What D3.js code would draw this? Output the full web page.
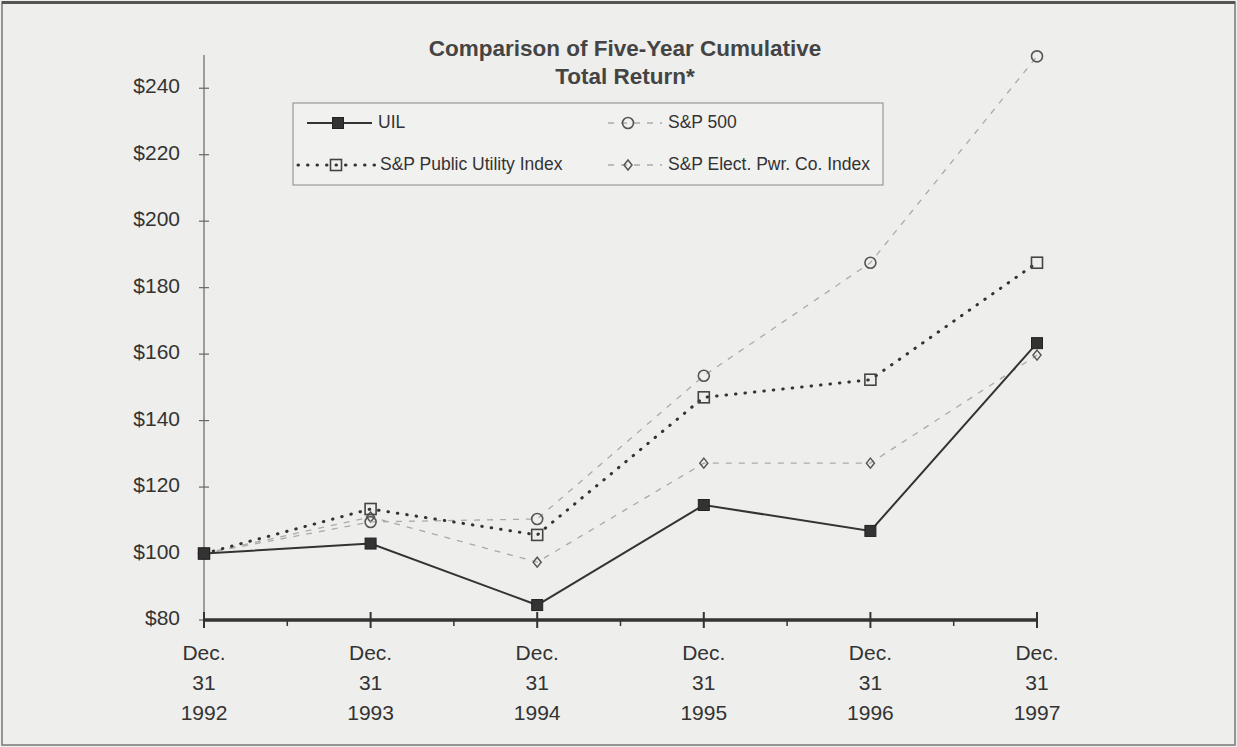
<!DOCTYPE html>
<html><head><meta charset="utf-8">
<script src="https://cdn.jsdelivr.net/npm/d3@7"></script>
<style>html,body{margin:0;padding:0;background:#eeeeec;}svg{display:block;}</style>
</head><body>
<svg id="c" width="1237" height="747"></svg>
<script>
const years = ["1992","1993","1994","1995","1996","1997"];
const yTicks = [80,100,120,140,160,180,200,220,240];
const uil   = [100,103,84.5,114.6,106.8,163.3];
const sp500 = [100,109.5,110.4,153.5,187.5,249.6];
const spUtil= [100,113.4,105.6,147,152.3,187.5];
const spElec= [100,111,97.4,127.2,127.2,159.7];
const seriesNames = ["UIL","S&P 500","S&P Public Utility Index","S&P Elect. Pwr. Co. Index"];

const svg = d3.select("#c");
const W=1237,H=747;
svg.append("rect").attr("x",0).attr("y",0).attr("width",W).attr("height",H).attr("fill","#eeeeec");
svg.append("rect").attr("x",2).attr("y",2).attr("width",W-4).attr("height",H-4).attr("fill","none").attr("stroke","#777").attr("stroke-width",1.5);
svg.append("line").attr("x1",2).attr("x2",W-2).attr("y1",2.5).attr("y2",2.5).attr("stroke","#555").attr("stroke-width",3);

const x = d3.scalePoint().domain(years).range([204,1037]);
const y = d3.scaleLinear().domain([80,250]).range([620,55]);
const font = "Arial, 'Liberation Sans', sans-serif";

// title
const t = svg.append("text").attr("text-anchor","middle").attr("font-family",font).attr("font-size",22.5).attr("font-weight","bold").attr("fill","#444");
t.append("tspan").attr("x",625).attr("y",56).text("Comparison of Five-Year Cumulative");
t.append("tspan").attr("x",625).attr("y",84).text("Total Return*");

// y axis
const yAxis = svg.append("g");
yAxis.append("line").attr("x1",204).attr("x2",204).attr("y1",y(250)).attr("y2",y(80)).attr("stroke","#666").attr("stroke-width",1.2);
yTicks.forEach(v=>{
  yAxis.append("line").attr("x1",199).attr("x2",209).attr("y1",y(v)).attr("y2",y(v)).attr("stroke","#666").attr("stroke-width",1.2);
  yAxis.append("text").attr("x",180).attr("y",y(v)).attr("dy","0.25em").attr("text-anchor","end")
    .attr("font-family",font).attr("font-size",21).attr("fill","#333").text("$"+v);
});

// x axis
const xa = svg.append("g");
xa.append("line").attr("x1",x("1992")).attr("x2",x("1997")).attr("y1",y(80)).attr("y2",y(80)).attr("stroke","#333").attr("stroke-width",3.5);
years.forEach((yr,i)=>{
  const px=x(yr);
  xa.append("line").attr("x1",px).attr("x2",px).attr("y1",y(80)-8).attr("y2",y(80)+8).attr("stroke","#333").attr("stroke-width",2);
  if(i<years.length-1){
    const mx=(px+x(years[i+1]))/2;
    xa.append("line").attr("x1",mx).attr("x2",mx).attr("y1",y(80)).attr("y2",y(80)+6).attr("stroke","#333").attr("stroke-width",1.5);
  }
  const tx = xa.append("text").attr("text-anchor","middle").attr("font-family",font).attr("font-size",21).attr("fill","#333");
  tx.append("tspan").attr("x",px).attr("y",660).text("Dec.");
  tx.append("tspan").attr("x",px).attr("y",690).text("31");
  tx.append("tspan").attr("x",px).attr("y",720).text(yr);
});

const line = d3.line().x((d,i)=>x(years[i])).y(d=>y(d));

const styles = [
  {data:uil, stroke:"#333", width:2, dash:null, cap:"butt", marker:"fsquare"},
  {data:sp500, stroke:"#aaa", width:1.3, dash:"6,7", cap:"butt", marker:"circle"},
  {data:spUtil, stroke:"#333", width:3, dash:"0.5,9", cap:"round", marker:"square"},
  {data:spElec, stroke:"#aaa", width:1.3, dash:"6,7", cap:"butt", marker:"diamond"}
];

function drawMarker(g,type,cx,cy){
  if(type==="fsquare") g.append("rect").attr("x",cx-5.5).attr("y",cy-5.5).attr("width",11).attr("height",11).attr("fill","#333").attr("stroke","#222").attr("stroke-width",1);
  else if(type==="circle") g.append("circle").attr("cx",cx).attr("cy",cy).attr("r",5.5).attr("fill","none").attr("stroke","#555").attr("stroke-width",1.6);
  else if(type==="square") g.append("rect").attr("x",cx-5.5).attr("y",cy-5.5).attr("width",11).attr("height",11).attr("fill","none").attr("stroke","#444").attr("stroke-width",1.6);
  else if(type==="diamond") g.append("path").attr("d",`M${cx},${cy-5}L${cx+4},${cy}L${cx},${cy+5}L${cx-4},${cy}Z`).attr("fill","none").attr("stroke","#555").attr("stroke-width",1.5);
}

// draw order: lighter first
[3,1,2,0].forEach(k=>{
  const s=styles[k];
  const g=svg.append("g");
  g.append("path").attr("d",line(s.data)).attr("fill","none").attr("stroke",s.stroke).attr("stroke-width",s.width)
    .attr("stroke-dasharray",s.dash).attr("stroke-linecap",s.cap);
  s.data.forEach((v,i)=>drawMarker(g,s.marker,x(years[i]),y(v)));
});

// legend
const lg = svg.append("g");
lg.append("rect").attr("x",293).attr("y",103).attr("width",590).attr("height",82).attr("fill","#f1f1ef").attr("stroke","#888").attr("stroke-width",1);
const legPos = [
  {lx1:307,lx2:372,mx:338,ty:123,tx:378},
  {lx1:608,lx2:662,mx:628,ty:123,tx:668},
  {lx1:298,lx2:376,mx:336,ty:165,tx:380},
  {lx1:608,lx2:662,mx:628,ty:165,tx:668}
];
styles.forEach((s,k)=>{
  const p=legPos[k];
  lg.append("line").attr("x1",p.lx1).attr("x2",p.lx2).attr("y1",p.ty).attr("y2",p.ty).attr("stroke",s.stroke)
    .attr("stroke-width",s.width).attr("stroke-dasharray",s.dash).attr("stroke-linecap",s.cap);
  drawMarker(lg,s.marker,p.mx,p.ty);
  lg.append("text").attr("x",p.tx).attr("y",p.ty).attr("dy","0.3em").attr("font-family",font).attr("font-size",17.5).attr("fill","#333").text(seriesNames[k]);
});
</script>
</body></html>
